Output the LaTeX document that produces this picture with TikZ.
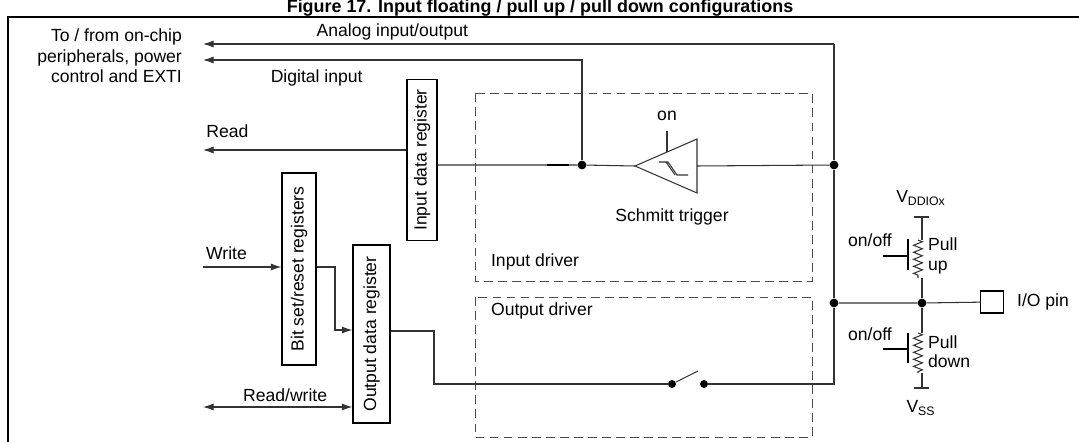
\documentclass[tikz,border=0pt]{standalone}
\usepackage{fontspec}
\setmainfont{Liberation Sans}
\usetikzlibrary{arrows.meta,positioning,decorations.pathmorphing}
\begin{document}
\begin{tikzpicture}[
			x=0.02cm, y=-0.02cm,
			every node/.style={font=\fontsize{10}{12}\selectfont, inner sep=1pt},
			wire/.style={draw=black!80, line width=0.6pt},
			arrow/.style={wire, -{Latex[length=6pt,width=4pt]}},
			reg/.style={draw, line width=0.7pt, rectangle, rotate=90, inner sep=1pt, minimum height=0.6cm},
			driver/.style={draw=black!70, dashed, dash pattern=on 5pt off 3pt},
			dot/.style={circle, fill, inner sep=0pt, minimum size=5pt},
			zig/.style={wire, decorate, decoration={zigzag, amplitude=2.5pt, segment length=4pt}}
			]
			\useasboundingbox (0,0) rectangle (1079,442);
			% Title and frame
			\node[font=\bfseries\fontsize{10.2}{12}\selectfont] (title) at (540,8) {Figure 17. Input floating / pull up / pull down configurations};
			\draw[line width=0.8pt] (8,17) rectangle (1095,450);
			% Left side texts
			\node[align=right, anchor=north east, font=\fontsize{10}{11.5}\selectfont] (chip) at (184,27) {To / from on-chip\\peripherals, power\\control and EXTI};
			% Registers
			\node[reg, minimum width=3.22cm] (idr) at (422,160) {Input data register};
			\node[reg, minimum width=3.84cm, minimum height=0.68cm] (bsr) at (299,269) {Bit set/reset registers};
			\node[reg, minimum width=3.56cm, minimum height=0.74cm] (odr) at (371.5,334) {Output data register};
			% Drivers
			\draw[driver] (475,93) rectangle (812,281);
			\draw[driver] (475,297) rectangle (812,437);
			\node[anchor=west] (indrv) at (489,262) {Input driver};
			\node[anchor=west] (outdrv) at (489,311) {Output driver};
			% Junctions
			\node[dot] (jdig) at (582,165) {};
			\node[dot] (jin) at (834,165) {};
			\node[dot] (jout) at (834,303) {};
			\node[dot] (jpin) at (922,303) {};
			\coordinate (busTop) at (834,44);
			\coordinate (anaEnd) at (203,44);
			\coordinate (digEnd) at (203,60);
			\coordinate (readEnd) at (203,150);
			% Schmitt trigger
			\draw[wire] (635,166) coordinate (stIn) -- (697,139) -- (697,193) -- cycle;
			\coordinate (stOut) at (697,166);
			\draw[wire] (659,162) -- (668,162) -- (677,175) -- (688,175);
			\draw[wire] (666,162) -- (675,175);
			\draw[wire] (667,131) -- (667,152);
			\node (on) at (667,116) {on};
			\node (stlbl) at (672,217) {Schmitt trigger};
			% Analog / digital / read paths
			\draw[arrow] (busTop) -- node[above=1pt, pos=0.7] {Analog input/output} (anaEnd);
			\draw[arrow] (jdig) |- node[below=4pt, pos=0.85] {Digital input} (digEnd);
			\draw[arrow] (idr.north |- readEnd) -- node[above=6pt, pos=0.88] {Read} (readEnd);
			\draw[wire] (idr.south |- jdig) -- (jdig) -- (stIn);
			\draw[line width=1.1pt] (547,165) -- (569,165);
			\draw[wire] (stOut) -- (jin);
			\draw[wire] (busTop) -- (jin) -- (jout);
			% Write side
			\coordinate (wrIn) at (203,267);
			\coordinate (rwIn) at (203,407);
			\draw[arrow] (wrIn) -- node[above=3pt, pos=0.3] {Write} (bsr.north |- wrIn);
			\draw[arrow] (bsr.south |- 0,267) -- (335,267) |- (odr.north |- 0,330);
			\draw[wire, {Latex[length=6pt,width=4pt]}-{Latex[length=6pt,width=4pt]}] (rwIn) -- node[above=2pt, pos=0.55] {Read/write} (odr.north |- rwIn);
			% Output path with switch
			\node[dot, minimum size=4.5pt] (swA) at (672,384) {};
			\node[dot, minimum size=4.5pt] (swB) at (704,384) {};
			\draw[wire] (odr.south |- 0,331) -- (434,331) |- (swA);
			\draw[wire] (swA) -- (698,371);
			\draw[wire] (swB) -- (834,384) -- (jout);
			% Pin
			\node[draw, line width=0.6pt, minimum width=0.46cm, minimum height=0.44cm] (pin) at (992,302) {};
			\node[anchor=west] (pinlbl) at (1015,302) {I/O pin};
			\draw[wire] (jout) -- (jpin) -- (pin);
			% Pull up
			\node (vdd) at (921,198) {V\textsubscript{\fontsize{7}{8}\selectfont DDIOx}};
			\draw[wire] (914,217) -- (929,217);
			\draw[wire] (922,217) -- (922,240);
			\draw[zig] (918,240) -- (918,278);
			\draw[wire] (922,278) -- (jpin);
			\draw[line width=1.1pt] (908,239) -- (908,270);
			\draw[line width=1pt] (883,256) -- (908,256);
			\node (puon) at (870,240) {on/off};
			\node[anchor=west, align=left, font=\fontsize{10}{11}\selectfont] (pulbl) at (926,256) {Pull\\up};
			% Pull down
			\draw[wire] (jpin) -- (922,333);
			\draw[zig] (918,333) -- (918,373);
			\draw[wire] (922,373) -- (922,388);
			\draw[wire] (914,388) -- (929,388);
			\draw[line width=1.1pt] (908,333) -- (908,363);
			\draw[line width=1pt] (883,349) -- (908,349);
			\node (pdon) at (870,334) {on/off};
			\node[anchor=west, align=left, font=\fontsize{10}{11}\selectfont] (pdlbl) at (926,352) {Pull\\down};
			\node (vss) at (921,408) {V\textsubscript{\fontsize{7}{8}\selectfont SS}};
		\end{tikzpicture}
\end{document}
